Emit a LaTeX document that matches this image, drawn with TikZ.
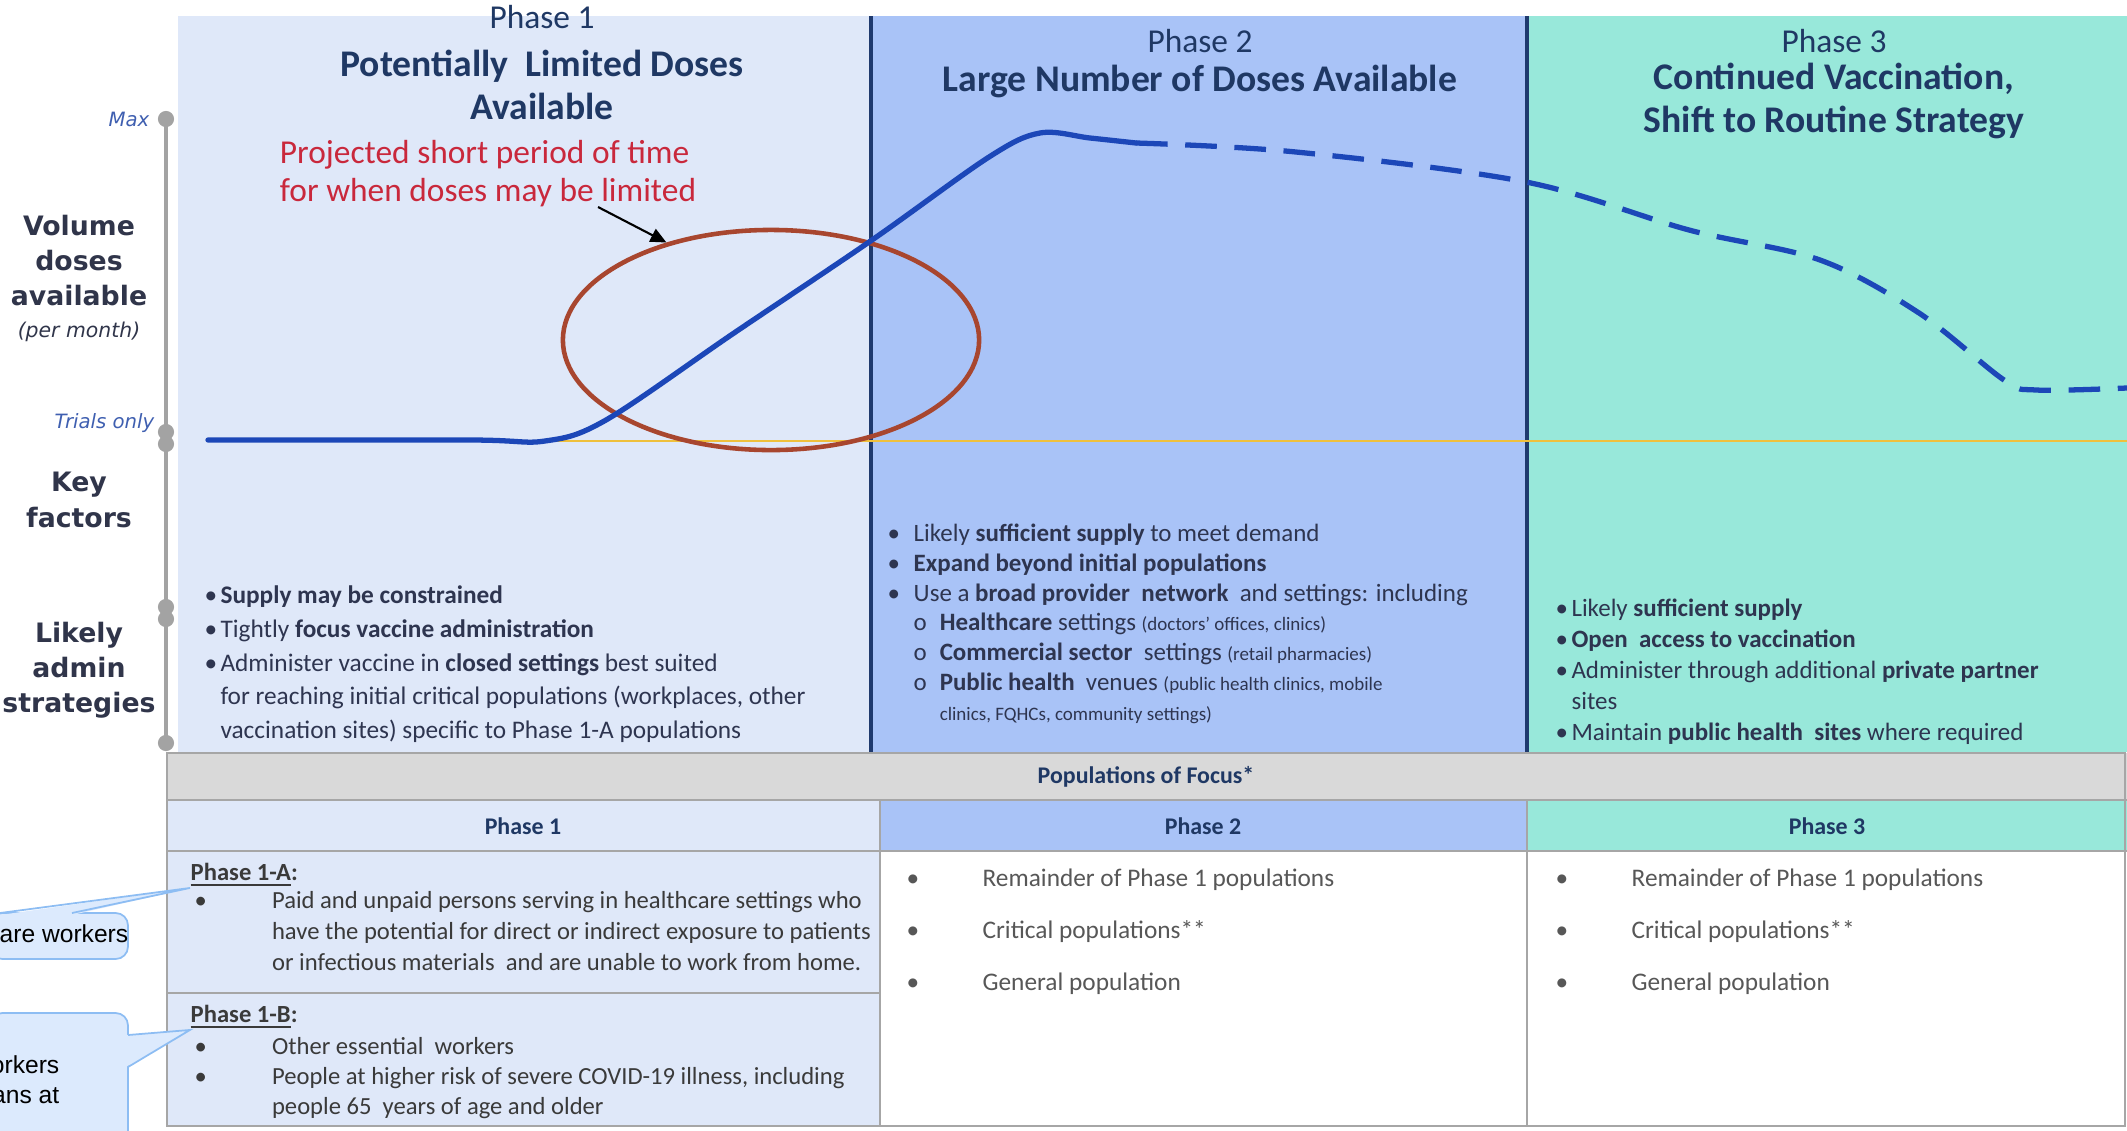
\documentclass[tikz,border=0pt]{standalone}
\usepackage{fontspec}
\setmainfont{Carlito}
\newfontfamily\axisfont{DejaVu Sans}
\newfontfamily\notefont{Liberation Sans}
\usepackage{tikz}
\usetikzlibrary{shapes.geometric,arrows.meta}

\definecolor{phaseA}{HTML}{DFE8F9}
\definecolor{phaseB}{HTML}{A9C3F7}
\definecolor{phaseC}{HTML}{98E8DA}
\definecolor{navy}{HTML}{1F3A6E}
\definecolor{titlenavy}{HTML}{1F3864}
\definecolor{curveblue}{HTML}{1C47B8}
\definecolor{trialyellow}{HTML}{EFC03C}
\definecolor{ringred}{HTML}{A8462F}
\definecolor{notered}{HTML}{C9283C}
\definecolor{axisgray}{HTML}{A3A3A3}
\definecolor{gridgray}{HTML}{A6A6A6}
\definecolor{headgray}{HTML}{D9D9D9}
\definecolor{bodytext}{HTML}{2E3550}
\definecolor{celltext}{HTML}{3A3A3A}
\definecolor{sidetext}{HTML}{30354A}
\definecolor{tickblue}{HTML}{3F5FB0}
\definecolor{calloutfill}{HTML}{DCEAFD}
\definecolor{calloutline}{HTML}{8DBDF3}

\newcommand{\blt}[1][4.5pt]{\makebox[#1][l]{\textbullet}}
\newcommand{\aside}[1]{{\fontsize{5.4}{6}\selectfont #1}}

\tikzset{
  phasenum/.style={text=titlenavy, font=\fontsize{9.5}{11}\selectfont, inner sep=0pt},
  phasetitle/.style={text=titlenavy, font=\bfseries\fontsize{10.7}{12}\selectfont, align=center, inner sep=0pt},
  sidelabel/.style={text=sidetext, font=\axisfont\bfseries\fontsize{7.6}{10}\selectfont, align=center, inner sep=0pt},
  ticklabel/.style={text=tickblue, font=\axisfont\itshape\fontsize{5.6}{7}\selectfont, anchor=east, inner sep=0pt},
  strategy/.style={text=bodytext, font=\fontsize{7.2}{9.6}\selectfont, align=left, anchor=north west, inner sep=0pt},
  popcell/.style={text=celltext, font=\fontsize{7}{8.8}\selectfont, align=left, anchor=north west, inner sep=0pt},
  popphase/.style={text=celltext, font=\bfseries\fontsize{7}{8}\selectfont, anchor=west, inner sep=0pt},
  colhead/.style={text=titlenavy, font=\bfseries\fontsize{6.8}{8}\selectfont, inner sep=0pt},
  notetext/.style={text=notered, font=\fontsize{9.5}{10.8}\selectfont, align=left, inner sep=0pt},
  ring/.style={ellipse, draw=ringred, line width=1.3pt, minimum width=4.16cm, minimum height=2.2cm, inner sep=0pt},
  curve/.style={curveblue, line width=1.5pt, line cap=round},
  axisline/.style={axisgray, line width=1.4pt},
  phaseline/.style={navy, line width=0.9pt},
  gridline/.style={gridgray, line width=0.6pt},
  callout/.style={fill=calloutfill, draw=calloutline, line width=0.5pt, rounded corners=3.5pt},
  callouttext/.style={font=\notefont\fontsize{7}{8.5}\selectfont, inner sep=0pt},
}

\begin{document}
\begin{tikzpicture}[x=0.01cm, y=-0.01cm]
\useasboundingbox (0,0) rectangle (2127,1130);
\clip (0,0) rectangle (2127,1130);

% phase panels
\fill[phaseA] (178,16) rectangle (871,752);
\fill[phaseB] (871,16) rectangle (1527,752);
\fill[phaseC] (1527,16) rectangle (2127,752);
\draw[phaseline] (871,16) -- (871,752);
\draw[phaseline] (1527,16) -- (1527,752);
\draw[trialyellow, line width=0.6pt] (208,441) -- (2127,441);

\node[ring] (ring) at (771,340) {};
\draw[curve] plot[smooth, tension=0.55] coordinates {(208,440) (470,440) (545,441) (606,420) (734,333) (872,240) (989,157) (1040,133) (1090,138) (1136,143)};
\draw[curve, dash pattern=on 9pt off 5pt, line cap=butt] plot[smooth, tension=0.55] coordinates {(1136,143) (1296,152) (1526,182) (1689,230) (1820,260) (1919,313) (2004,380) (2036,390) (2127,388)};

\node[notetext] (note) at (488,174) {Projected short period of time\\for when doses may be limited};
\coordinate (arrowfrom) at (598,207);
\draw[-{Triangle[length=4.5pt,width=4pt]}, line width=0.6pt] (arrowfrom) -- (ring.137);

\node[phasenum] (p1num) at (542,17) {Phase 1};
\node[phasetitle] (p1title) at (542,85) {Potentially\ \ Limited Doses\\Available};
\node[phasenum] (p2num) at (1200,41) {Phase 2};
\node[phasetitle] (p2title) at (1200,81) {Large Number of Doses Available};
\node[phasenum] (p3num) at (1834,41) {Phase 3};
\node[phasetitle] (p3title) at (1834,101) {Continued Vaccination,\\Shift to Routine Strategy};

% left axis
\draw[axisline] (166,119) -- (166,743);
\foreach \y in {119,432,444,607,619,743}
  \fill[axisgray] (166,\y) circle (2.3pt);
\node[ticklabel] (maxlab) at (150,119) {Max};
\node[ticklabel] (triallab) at (155,423) {Trials only};
\node[sidelabel] (volume) at (79,278) {Volume\\doses\\available\\[-1pt]{\mdseries\itshape\fontsize{5.8}{7}\selectfont (per month)}};
\node[sidelabel] (factors) at (79,500) {Key\\factors};
\node[sidelabel] (admin) at (79,670) {Likely\\admin\\strategies};

\node[strategy] (p1list) at (204,585) {%
\blt\textbf{Supply may be constrained}\\
\blt Tightly \textbf{focus vaccine administration}\\
\blt Administer vaccine in \textbf{closed settings} best suited\\
\hspace*{4.5pt}for reaching initial critical populations (workplaces, other\\
\hspace*{4.5pt}vaccination sites) specific to Phase 1-A populations};

\node[strategy, font=\fontsize{7.1}{8.5}\selectfont] (p2list) at (887,523) {%
\blt[7.4pt]Likely \textbf{sufficient supply} to meet demand\\
\blt[7.4pt]\textbf{Expand beyond initial populations}\\
\blt[7.4pt]Use a \textbf{broad provider\ \ network}\ \ and settings: including\\
\hspace*{7.4pt}\makebox[7.4pt][l]{o}\textbf{Healthcare} settings \aside{(doctors' offices, clinics)}\\
\hspace*{7.4pt}\makebox[7.4pt][l]{o}\textbf{Commercial sector}\ \ settings \aside{(retail pharmacies)}\\
\hspace*{7.4pt}\makebox[7.4pt][l]{o}\textbf{Public health}\ \ venues \aside{(public health clinics, mobile}\\
\hspace*{14.8pt}\aside{clinics, FQHCs, community settings)}};

\node[strategy, font=\fontsize{7.1}{8.8}\selectfont] (p3list) at (1555,598) {%
\blt Likely \textbf{sufficient supply}\\
\blt\textbf{Open\ \ access to vaccination}\\
\blt Administer through additional \textbf{private partner}\\
\hspace*{4.5pt}sites\\
\blt Maintain \textbf{public health\ \ sites} where required};

% populations table
\fill[headgray] (167,753) rectangle (2127,800);
\fill[phaseA] (167,800) rectangle (880,1126);
\fill[phaseB] (880,800) rectangle (1527,851);
\fill[phaseC] (1527,800) rectangle (2127,851);
\fill[white] (880,851) rectangle (2127,1126);
\draw[gridline] (167,753) rectangle (2125,1126);
\draw[gridline] (167,800) -- (2127,800);
\draw[gridline] (167,851) -- (2127,851);
\draw[gridline] (167,993) -- (880,993);
\draw[gridline] (880,800) -- (880,1126);
\draw[gridline] (1527,800) -- (1527,1126);

\node[colhead] (focus) at (1146,777) {Populations of Focus*};
\node[colhead] (col1) at (523,826) {Phase 1};
\node[colhead] (col2) at (1203,826) {Phase 2};
\node[colhead] (col3) at (1827,826) {Phase 3};

\node[popphase] (labA) at (190,875) {\underline{Phase 1-A}:};
\node[popcell] (listA) at (194,891) {%
\blt[22pt]Paid and unpaid persons serving in healthcare settings who\\
\hspace*{22pt}have the potential for direct or indirect exposure to patients\\
\hspace*{22pt}or infectious materials\ \ and are unable to work from home.};
\node[popphase] (labB) at (190,1017) {\underline{Phase 1-B}:};
\node[popcell, font=\fontsize{7}{8.5}\selectfont] (listB) at (194,1037) {%
\blt[22pt]Other essential\ \ workers\\
\blt[22pt]People at higher risk of severe COVID-19 illness, including\\
\hspace*{22pt}people 65\ \ years of age and older};

\node[popcell, text=celltext!85, font=\fontsize{7.2}{14.8}\selectfont] (list2) at (906,868) {%
\blt[21.6pt]Remainder of Phase 1 populations\\
\blt[21.6pt]Critical populations**\\
\blt[21.6pt]General population};
\node[popcell, text=celltext!85, font=\fontsize{7.2}{14.8}\selectfont] (list3) at (1555,868) {%
\blt[21.6pt]Remainder of Phase 1 populations\\
\blt[21.6pt]Critical populations**\\
\blt[21.6pt]General population};

% callouts
\draw[callout] (-10,913) rectangle (128,959);
\fill[calloutfill] (0,915) -- (labA.south west) -- (72,915) -- cycle;
\draw[calloutline, line width=0.5pt] (0,913) -- (labA.south west) -- (72,913);
\node[callouttext, anchor=west] (noteA) at (-1,934) {are workers};

\draw[callout] (-10,1013) rectangle (128,1160);
\fill[calloutfill] (126,1035) -- (labB.south west) -- (126,1067) -- cycle;
\draw[calloutline, line width=0.5pt] (128,1035) -- (labB.south west) -- (128,1067);
\node[callouttext, anchor=north east, align=right] (noteB) at (60,1055) {orkers\\ans at};
\end{tikzpicture}
\end{document}
